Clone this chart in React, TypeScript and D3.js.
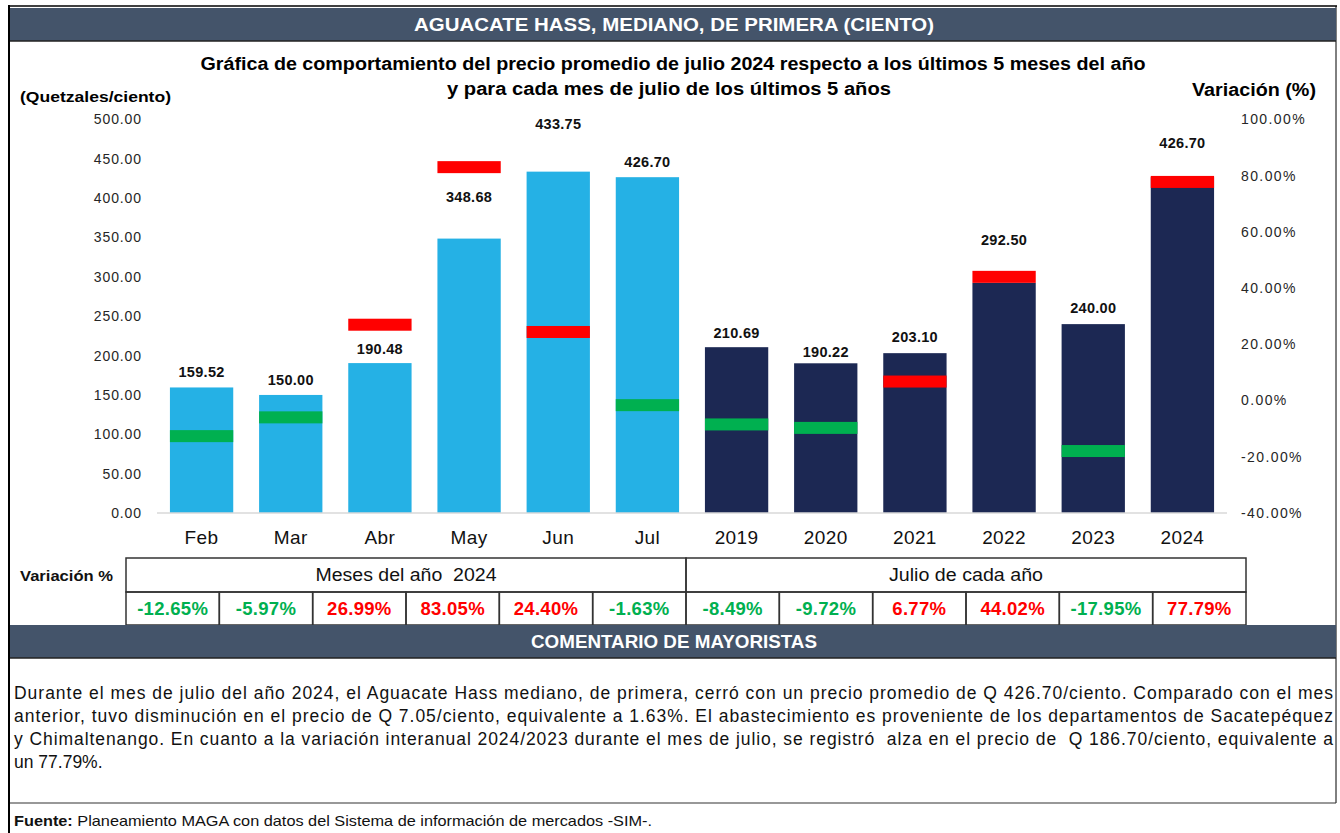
import React from "react";
import * as d3 from "d3";

const categories = ["Feb", "Mar", "Abr", "May", "Jun", "Jul", "2019", "2020", "2021", "2022", "2023", "2024"];
const periodGroup = ["mes", "mes", "mes", "mes", "mes", "mes", "anio", "anio", "anio", "anio", "anio", "anio"];
const prices = [159.52, 150.0, 190.48, 348.68, 433.75, 426.7, 210.69, 190.22, 203.1, 292.5, 240.0, 426.7];
const variations = [-12.65, -5.97, 26.99, 83.05, 24.4, -1.63, -8.49, -9.72, 6.77, 44.02, -17.95, 77.79];
const priceTicks = [0, 50, 100, 150, 200, 250, 300, 350, 400, 450, 500];
const variationTicks = [-40, -20, 0, 20, 40, 60, 80, 100];
// manual label lift above bar top (px), as placed in the original
const labelLift = [16, 15, 14, 42, 48, 15, 14, 11, 16, 43, 16, 34];

const tableGroups = [
  { label: "Meses del año  2024", from: "Feb", to: "Jul", width: 181 },
  { label: "Julio de cada año", from: "2019", to: "2024", width: 154 },
];

const commentLines = [
  "Durante el mes de julio del año 2024, el Aguacate Hass mediano, de primera, cerró con un precio promedio de Q 426.70/ciento. Comparado con el mes",
  "anterior, tuvo disminución en el precio de Q 7.05/ciento, equivalente a 1.63%. El abastecimiento es proveniente de los departamentos de Sacatepéquez",
  "y Chimaltenango. En cuanto a la variación interanual 2024/2023 durante el mes de julio, se registró  alza en el precio de  Q 186.70/ciento, equivalente a",
  "un 77.79%.",
];

const FONT = "'Liberation Sans', Arial, Helvetica, sans-serif";
const HEADER = "#44546A";
const LIGHT = "#25B1E5";
const NAVY = "#1C2853";
const RED = "#FF0000";
const GREEN = "#00B050";

const fmt = (v: number) => d3.format(".2f")(v).replace("\u2212", "-");

export default function App() {
  const W = 1340;
  const H = 833;
  const x = d3.scaleBand<string>().domain(categories).range([157, 1227]).paddingInner(0.29).paddingOuter(0.145);
  const yL = d3.scaleLinear().domain([0, 500]).range([513, 119.5]);
  const yR = d3.scaleLinear().domain([-40, 100]).range([513, 119.5]);
  const tx = d3.scaleBand<string>().domain(categories).range([126, 1246]);
  const markerH = 12;
  const tableTop = 558;
  const tableMid = 592;
  const tableBot = 625;
  const SG = "spacingAndGlyphs";

  return (
    <svg width={W} height={H} style={{ position: "absolute", left: 0, top: 0, background: "#fff" }} fontFamily={FONT}>
      {/* frame */}
      <rect x={0} y={0} width={W} height={H} fill="#fff" />
      <line x1={9} x2={9} y1={5} y2={H} stroke="#000" strokeWidth={2} />
      <line x1={9} x2={1337} y1={6} y2={6} stroke="#000" strokeWidth={1.5} />
      <line x1={1336} x2={1336} y1={6} y2={803} stroke="#000" strokeWidth={1} />

      {/* top header */}
      <rect x={10} y={8} width={1326} height={33} fill={HEADER} />
      <line x1={10} x2={1336} y1={41} y2={41} stroke="#222" strokeWidth={1.5} />
      <text x={674} y={30.5} textAnchor="middle" fill="#fff" fontWeight="bold" fontSize={18} textLength={520} lengthAdjust={SG}>
        AGUACATE HASS, MEDIANO, DE PRIMERA (CIENTO)
      </text>

      {/* chart title */}
      <text x={673} y={69.5} textAnchor="middle" fill="#000" fontWeight="bold" fontSize={18} textLength={945} lengthAdjust={SG}>
        Gráfica de comportamiento del precio promedio de julio 2024 respecto a los últimos 5 meses del año
      </text>
      <text x={669} y={94.5} textAnchor="middle" fill="#000" fontWeight="bold" fontSize={18} textLength={444} lengthAdjust={SG}>
        y para cada mes de julio de los últimos 5 años
      </text>
      <text x={20} y={102} fill="#000" fontWeight="bold" fontSize={15.5} textLength={151} lengthAdjust={SG}>
        (Quetzales/ciento)
      </text>
      <text x={1192} y={96} textAnchor="start" fill="#000" fontWeight="bold" fontSize={17.5} textLength={124} lengthAdjust={SG}>
        Variación (%)
      </text>

      {/* left axis */}
      {priceTicks.map((t) => (
        <text key={"l" + t} x={142} y={yL(t)} dy="0.35em" textAnchor="end" fontSize={14} letterSpacing={0.9} fill="#262626">
          {fmt(t)}
        </text>
      ))}
      {/* right axis */}
      {variationTicks.map((t) => (
        <text key={"r" + t} x={1241} y={yR(t)} dy="0.35em" textAnchor="start" fontSize={14} letterSpacing={1.4} fill="#262626">
          {fmt(t) + "%"}
        </text>
      ))}

      {/* bars */}
      {categories.map((c, i) => (
        <rect
          key={"b" + c}
          x={x(c)}
          y={yL(prices[i])}
          width={x.bandwidth()}
          height={yL(0) - yL(prices[i])}
          fill={periodGroup[i] === "mes" ? LIGHT : NAVY}
        />
      ))}
      {/* variation markers */}
      {categories.map((c, i) => (
        <rect
          key={"m" + c}
          x={x(c)}
          y={yR(variations[i]) - markerH / 2}
          width={x.bandwidth()}
          height={markerH}
          fill={variations[i] >= 0 ? RED : GREEN}
        />
      ))}
      <line x1={157} x2={1227} y1={yL(0)} y2={yL(0)} stroke="#D9D9D9" strokeWidth={1.5} />

      {/* value labels */}
      {categories.map((c, i) => (
        <text
          key={"v" + c}
          x={(x(c) as number) + x.bandwidth() / 2}
          y={yL(prices[i]) - labelLift[i]}
          dy="0.35em"
          textAnchor="middle"
          fontWeight="bold"
          fontSize={14.5}
          letterSpacing={0.3}
          fill="#111"
        >
          {fmt(prices[i])}
        </text>
      ))}
      {/* category labels */}
      {categories.map((c) => (
        <text
          key={"c" + c}
          x={(x(c) as number) + x.bandwidth() / 2}
          y={537}
          dy="0.35em"
          textAnchor="middle"
          fontSize={19}
          letterSpacing={0.4}
          fill="#111"
        >
          {c}
        </text>
      ))}

      {/* variation table */}
      <text x={20} y={576} dy="0.35em" fontWeight="bold" fontSize={14.5} fill="#111" textLength={93} lengthAdjust={SG}>
        Variación %
      </text>
      {tableGroups.map((g) => {
        const x0 = tx(g.from) as number;
        const x1 = (tx(g.to) as number) + tx.bandwidth();
        return (
          <g key={g.label}>
            <rect x={x0} y={tableTop} width={x1 - x0} height={tableMid - tableTop} fill="none" stroke="#333" strokeWidth={1.5} />
            <text
              x={(x0 + x1) / 2}
              y={(tableTop + tableMid) / 2}
              dy="0.35em"
              textAnchor="middle"
              fontSize={17.5}
              fill="#111"
              style={{ whiteSpace: "pre" }}
              textLength={g.width}
              lengthAdjust={SG}
            >
              {g.label}
            </text>
          </g>
        );
      })}
      {categories.map((c, i) => (
        <g key={"t" + c}>
          <rect x={tx(c)} y={tableMid} width={tx.bandwidth()} height={tableBot - tableMid} fill="none" stroke="#333" strokeWidth={1.5} />
          <text
            x={(tx(c) as number) + tx.bandwidth() / 2}
            y={(tableMid + tableBot) / 2}
            dy="0.35em"
            textAnchor="middle"
            fontWeight="bold"
            fontSize={18.5}
            letterSpacing={0.3}
            fill={variations[i] >= 0 ? RED : GREEN}
          >
            {fmt(variations[i]) + "%"}
          </text>
        </g>
      ))}

      {/* comment header */}
      <rect x={10} y={625} width={1326} height={33} fill={HEADER} />
      <line x1={10} x2={1336} y1={658} y2={658} stroke="#222" strokeWidth={1.5} />
      <text x={674} y={647.5} textAnchor="middle" fill="#fff" fontWeight="bold" fontSize={17.5} textLength={286} lengthAdjust={SG}>
        COMENTARIO DE MAYORISTAS
      </text>

      {commentLines.map((l, i) => (
        <text
          key={"cl" + i}
          x={14}
          y={699 + i * 23}
          fontSize={17.5}
          fill="#111"
          style={{ whiteSpace: "pre" }}
          {...(i < commentLines.length - 1 ? { textLength: 1319, lengthAdjust: "spacing" } : {})}
        >
          {l}
        </text>
      ))}

      <line x1={10} x2={1336} y1={803} y2={803} stroke="#333" strokeWidth={1.2} />
      <text x={14} y={826} fontSize={14.5} fill="#111" textLength={638} lengthAdjust={SG}>
        <tspan fontWeight="bold">Fuente:</tspan>
        <tspan> Planeamiento MAGA con datos del Sistema de información de mercados -SIM-.</tspan>
      </text>
    </svg>
  );
}
